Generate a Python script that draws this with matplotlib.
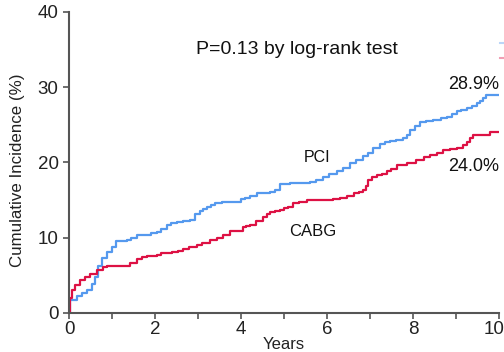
import numpy as np
import matplotlib.pyplot as plt
import matplotlib.transforms as mtransforms
from matplotlib.lines import Line2D

plt.rcParams['font.family'] = ['Liberation Sans', 'DejaVu Sans']

# cumulative incidence (%) at each event time (years)
pci_years = [0, 0.02, 0.18, 0.3, 0.41, 0.53, 0.6, 0.68, 0.76, 0.88, 0.99, 1.1, 1.2, 1.34,
             1.45, 1.57, 1.9, 2.04, 2.15, 2.27, 2.38, 2.5, 2.65, 2.81, 2.93, 3.05, 3.12,
             3.2, 3.3, 3.4, 3.55, 3.74, 4.0, 4.1, 4.2, 4.37, 4.5, 4.67, 4.79, 4.9, 5.0,
             5.14, 5.6, 5.75, 5.91, 6.05, 6.23, 6.38, 6.53, 6.68, 6.84, 6.95, 7.08, 7.23,
             7.35, 7.47, 7.6, 7.77, 7.85, 7.93, 8.05, 8.16, 8.3, 8.47, 8.65, 8.78, 8.9,
             9.02, 9.12, 9.25, 9.38, 9.48, 9.55, 9.63, 9.71, 10.0]
pci_inc = [0, 1.7, 2.2, 2.6, 3.1, 3.9, 4.8, 6.2, 7.3, 8.1, 8.8, 9.5, 9.6, 9.7,
           10.0, 10.4, 10.6, 10.8, 11.2, 11.7, 11.9, 12.1, 12.2, 12.4, 13.2, 13.5, 13.8,
           14.1, 14.3, 14.6, 14.7, 14.8, 15.1, 15.3, 15.5, 15.9, 16.0, 16.1, 16.3, 17.1, 17.2,
           17.3, 17.4, 17.7, 18.1, 18.4, 18.8, 19.3, 19.9, 20.3, 20.8, 21.3, 21.9, 22.5,
           22.7, 22.9, 23.0, 23.2, 23.7, 24.3, 24.9, 25.4, 25.5, 25.6, 25.9, 26.1, 26.4,
           26.8, 27.0, 27.2, 27.5, 27.9, 28.2, 28.6, 28.9, 28.9]

cabg_years = [0, 0.02, 0.06, 0.14, 0.26, 0.37, 0.49, 0.64, 0.8, 0.88, 1.26, 1.42, 1.57,
              1.7, 1.81, 1.95, 2.04, 2.15, 2.27, 2.4, 2.54, 2.66, 2.8, 2.97, 3.1, 3.28,
              3.45, 3.59, 3.74, 4.05, 4.12, 4.2, 4.35, 4.52, 4.6, 4.67, 4.8, 4.9, 5.0,
              5.1, 5.22, 5.35, 5.53, 6.15, 6.3, 6.46, 6.62, 6.75, 6.84, 6.9, 6.96, 7.05,
              7.16, 7.27, 7.39, 7.5, 7.62, 7.85, 8.08, 8.25, 8.4, 8.55, 8.7, 8.85, 9.02,
              9.17, 9.25, 9.33, 9.4, 9.79, 10.0]
cabg_inc = [0, 2.0, 3.1, 3.7, 4.4, 4.8, 5.2, 5.7, 6.1, 6.2, 6.3, 6.6, 7.2,
            7.4, 7.5, 7.6, 7.7, 7.9, 8.0, 8.1, 8.2, 8.5, 8.7, 9.0, 9.3, 9.7,
            10.0, 10.4, 10.9, 11.4, 11.5, 11.7, 12.2, 12.8, 13.1, 13.4, 13.5, 13.7, 13.9,
            14.1, 14.6, 14.8, 15.0, 15.1, 15.3, 15.5, 15.9, 16.1, 16.3, 16.9, 17.7, 18.0,
            18.3, 18.5, 18.8, 19.1, 19.6, 19.9, 20.3, 20.7, 21.0, 21.3, 21.6, 21.8, 21.9,
            22.3, 22.7, 23.2, 23.7, 24.0, 24.0]

blue = '#5599EE'
red = '#DD1144'
ink = '#111111'

fig = plt.figure(figsize=(5.04, 3.52), dpi=100)
ax = fig.add_axes([0.137, 0.111, 0.853, 0.855])

ax.plot(pci_years, pci_inc, drawstyle='steps-post', color=blue, lw=1.6)
ax.plot(cabg_years, cabg_inc, drawstyle='steps-post', color=red, lw=1.6)

ax.set_xlim(0, 10)
ax.set_ylim(0, 40)
ax.set_xticks(np.arange(0, 11, 2))
ax.set_xticks(np.arange(1, 10, 2), minor=True)
ax.set_yticks(np.arange(0, 41, 10))
ax.tick_params(which='both', direction='out', length=4, width=1.2, color='#555555',
               labelsize=13.5, labelcolor='#222222')
ax.tick_params(axis='x', pad=2)

# pull the last year label in so it stays on the canvas
last = ax.get_xticklabels()[-1]
last.set_transform(last.get_transform() + mtransforms.ScaledTranslation(-5 / 100, 0, fig.dpi_scale_trans))

for s in ['top', 'right']:
    ax.spines[s].set_visible(False)
for s in ['left', 'bottom']:
    ax.spines[s].set_color('#555555')
    ax.spines[s].set_linewidth(1.5)

ax.set_xlabel('Years', fontsize=12, color='#222222', labelpad=-1)
ax.set_ylabel('Cumulative Incidence (%)', fontsize=12.2, color='#222222')
ax.yaxis.set_label_coords(-0.103, 0.475)

ax.text(5.3, 34.95, 'P=0.13 by log-rank test', fontsize=14, ha='center', va='center', color=ink)
ax.text(5.77, 20.7, 'PCI', fontsize=11.5, ha='center', va='center', color=ink)
ax.text(5.67, 10.8, 'CABG', fontsize=12, ha='center', va='center', color=ink)
ax.text(10.0, 30.4, f'{pci_inc[-1]:.1f}%', fontsize=13, ha='right', va='center', color=ink)
ax.text(10.0, 19.4, f'{cabg_inc[-1]:.1f}%', fontsize=13, ha='right', va='center', color=ink)

# legend sits off the right edge; only its handles peek in
handles = [Line2D([], [], color=blue, lw=1.5, alpha=0.4),
           Line2D([], [], color=red, lw=1.5, alpha=0.4)]
fig.legend(handles, ['', ''], loc='upper left', bbox_to_anchor=(500 / 504, 1 - 38 / 352),
           frameon=False, borderpad=0, borderaxespad=0, handlelength=2, labelspacing=0.3,
           fontsize=9)

fig.savefig('out.png', dpi=100)
